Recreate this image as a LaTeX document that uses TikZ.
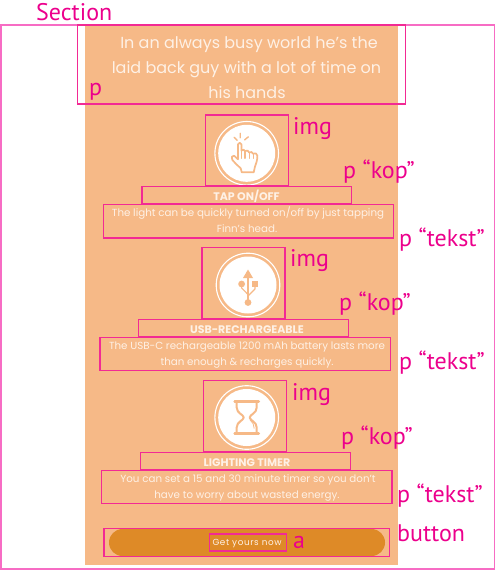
\documentclass[tikz,border=0pt]{standalone}
\usepackage{fontspec}
\setmainfont{Poppins}
\newfontfamily\labelfont{PT Sans}
\definecolor{peach}{HTML}{F6B987}
\definecolor{btn}{HTML}{DE8A27}
\definecolor{mag}{HTML}{EC008C}
\definecolor{boxpink}{HTML}{F22A94}
\definecolor{sectpink}{HTML}{F76CC4}
\definecolor{soft}{HTML}{FEF1E6}
\tikzset{
  x=1pt,y=-1pt,
  boxline/.style={draw=boxpink,line width=1.25pt},
  annot/.style={text=mag,anchor=base west,inner sep=0pt,font=\labelfont\fontsize{24}{24}\selectfont},
  intro/.style={text=soft,inner sep=0pt,anchor=base,font=\fontsize{16}{16}\selectfont},
  head/.style={text=soft,inner sep=0pt,anchor=base,font=\bfseries\fontsize{11}{11}\selectfont},
  body/.style={text=soft,inner sep=0pt,anchor=base,font=\fontsize{10.3}{10.3}\selectfont},
  ringo/.style={draw=white,line width=1.1pt,fill=none},
  ico/.style={draw=peach,line width=1.7pt,line join=round,line cap=round},
}
\begin{document}
\begin{tikzpicture}
\useasboundingbox (0,0) rectangle (496,570);
\fill[peach] (84.5,24) rectangle (398,564.5);
% intro
\node[intro] (i1) at (249,48.5) {In an always busy world he's the};
\node[intro] (i2) at (246.5,73.5) {laid back guy with a lot of time on};
\node[intro] (i3) at (247,98.5) {his hands};
% icon 1: hand
\begin{scope}[shift={(246.7,153.3)}]
  \draw[ringo] (0,0) circle (31.8);
  \fill[white] (0,0) circle (28.5);
  \draw[ico,fill=white] (-8.7,6) -- (-8.7,-9) .. controls (-8.7,-11) and (-5.3,-11) .. (-5.3,-9) -- (-5.3,-2.7)
    .. controls (-4,-4) and (-2,-4) .. (-1.7,-2.2) .. controls (0,-3.2) and (2,-3) .. (2.4,-0.8)
    .. controls (4,-1.8) and (6,-1.4) .. (6.4,0.4) .. controls (8,-0.6) and (10.7,0) .. (10.7,2.3)
    .. controls (10.7,7) and (9.5,10) .. (8.3,13.3) -- (7,19) -- (-5,19) -- (-6,15)
    .. controls (-9,12) and (-12,10) .. (-14.3,6.7) .. controls (-15.5,4) and (-14.5,1.5) .. (-12.5,2.5) -- cycle;
  \draw[ico,line width=1.2pt] (-5.3,-3) -- (-5.3,5) (-1.7,-2.2) -- (-1.7,5) (2.4,-.8) -- (2.4,5) (6.4,.4) -- (6.4,5);
  \draw[ico,line width=1.4pt] (-6.5,-20) -- (-6.5,-15.5) (-12.5,-16) -- (-9.5,-13) (1.7,-16.5) -- (-2,-13.5);
\end{scope}
% icon 2: usb
\begin{scope}[shift={(248,285)}]
  \draw[ringo] (0,0) circle (31.8);
  \fill[white] (0,0) circle (28.5);
  \fill[peach] (0,-15.5) -- (-5,-7) -- (5,-7) -- cycle;
  \fill[peach] (0,17.5) circle (3.4);
  \fill[peach] (-6.4,-1) circle (3.4);
  \fill[peach] (4,-4.3) rectangle (10,1.7);
  \draw[peach,line width=1.1pt] (0,-8) -- (0,15);
  \draw[peach,line width=1.1pt,line join=round] (-6.4,0) -- (-6.4,3) -- (0,9.5);
  \draw[peach,line width=1.1pt,line join=round] (7,1) -- (7,4) -- (0,11);
\end{scope}
% icon 3: hourglass
\begin{scope}[shift={(246.7,417.5)}]
  \draw[ringo] (0,0) circle (31.8);
  \fill[white] (0,0) circle (28.5);
  \draw[peach,line width=2pt,line join=round,line cap=round]
    (-10,-16) -- (-10,-10) .. controls (-10,-4) and (-3,-3) .. (-3,0) .. controls (-3,3) and (-10,4) .. (-10,10) -- (-10,16);
  \draw[peach,line width=2pt,line join=round,line cap=round]
    (10,-16) -- (10,-10) .. controls (10,-4) and (3,-3) .. (3,0) .. controls (3,3) and (10,4) .. (10,10) -- (10,16);
  \draw[peach,line width=2.8pt,line cap=round] (-12,-16) -- (12,-16);
  \draw[peach,line width=2.8pt,line cap=round] (-12,16) -- (12,16);
  \draw[peach,line width=.8pt] (3.5,2.5) .. controls (6,4.5) and (7.5,7.5) .. (7.5,11);
\end{scope}
% texts
\node[head] (h1) at (246.5,200.5) {TAP ON/OFF};
\node[body] (t1a) at (248,216) {The light can be quickly turned on/off by just tapping};
\node[body] (t1b) at (247,232) {Finn's head.};
\node[head] (h2) at (247,333) {USB-RECHARGEABLE};
\node[body] (t2a) at (247,349) {The USB-C rechargeable 1200 mAh battery lasts more};
\node[body] (t2b) at (247,365) {than enough \& recharges quickly.};
\node[head] (h3) at (247,466) {LIGHTING TIMER};
\node[body] (t3a) at (248,482) {You can set a 15 and 30 minute timer so you don't};
\node[body] (t3b) at (247,498) {have to worry about wasted energy.};
% button
\fill[btn,rounded corners=13.5pt] (109,529) rectangle (385,556);
\node[text=soft,inner sep=0pt,anchor=base,font=\addfontfeature{LetterSpace=7}\fontsize{8.8}{8.8}\selectfont] (g) at (247,545.5) {Get yours now};
% boxes
\draw[sectpink,line width=1.25pt] (1,25) rectangle (494.5,569);
\draw[boxline] (77.5,25) rectangle (405.5,104);
\draw[boxline] (205.5,115) rectangle (288.5,186);
\draw[boxline] (142,186.5) rectangle (351.5,204);
\draw[boxline] (103.5,204.5) rectangle (393.5,238);
\draw[boxline] (202,247.5) rectangle (285,319);
\draw[boxline] (138.5,319.5) rectangle (348.5,337);
\draw[boxline] (100,337.5) rectangle (390.5,370.5);
\draw[boxline] (203.5,380.5) rectangle (286.5,452);
\draw[boxline] (140.5,452.5) rectangle (350.5,470);
\draw[boxline] (101.5,470.5) rectangle (392,503.5);
\draw[boxline] (104,528.5) rectangle (389.5,556.5);
\draw[boxline] (209.5,534) rectangle (286.5,551);
% annotations
\node[annot] (lsec) at (36,20.7) {Section};
\node[annot] (lp) at (89,95) {p};
\node[annot] (li1) at (293,134) {img};
\node[annot] (lk1) at (343,178) {p “kop”};
\node[annot] (lt1) at (399,246) {p “tekst”};
\node[annot] (li2) at (290,266.7) {img};
\node[annot] (lk2) at (339,310.7) {p “kop”};
\node[annot] (lt2) at (399,369.3) {p “tekst”};
\node[annot] (li3) at (292,400) {img};
\node[annot] (lk3) at (341,444) {p “kop”};
\node[annot] (lt3) at (397,502.3) {p “tekst”};
\node[annot] (lb) at (397,541) {button};
\node[annot] (la) at (293,548) {a};
\end{tikzpicture}
\end{document}
